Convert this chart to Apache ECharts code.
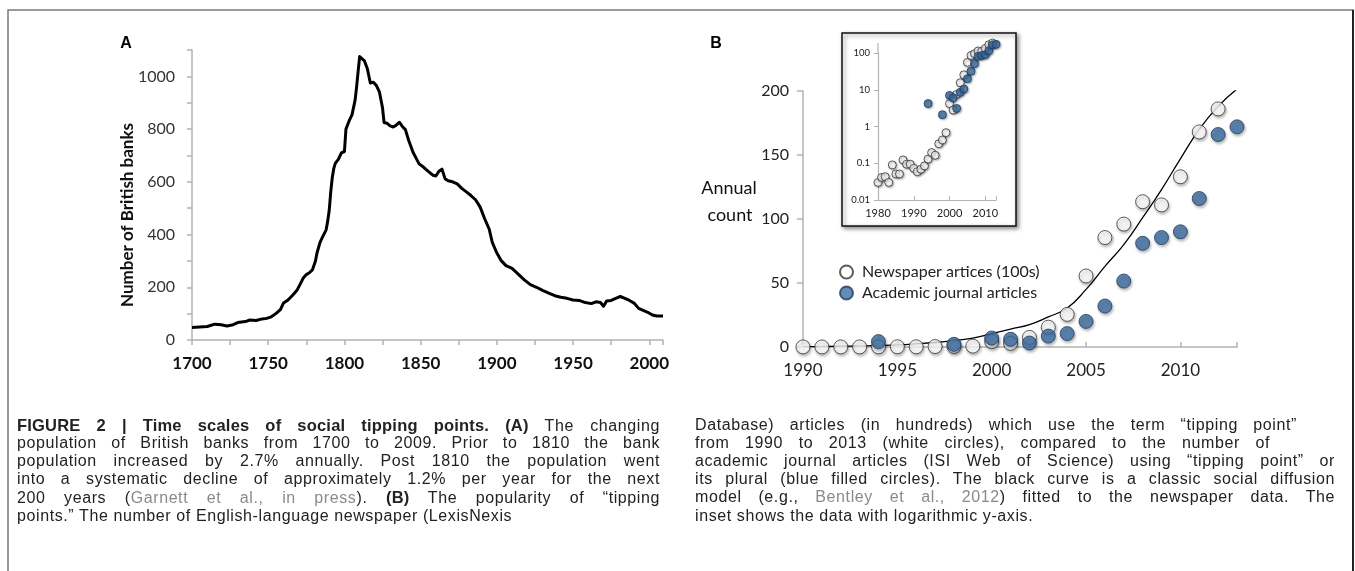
<!DOCTYPE html>
<html><head><meta charset="utf-8">
<script src="https://cdn.jsdelivr.net/npm/echarts@6/dist/echarts.min.js"></script>
<style>
html,body{margin:0;padding:0;background:#fff;}
#wrap{position:relative;width:1355px;height:571px;overflow:hidden;background:#fff;}
#chart{position:absolute;left:0;top:0;width:1355px;height:571px;}
.cap{position:absolute;font-family:'Liberation Sans',Arial,sans-serif;font-size:16px;letter-spacing:0.6px;color:#222;line-height:18px;height:18px;white-space:nowrap;}
.cap b{font-family:'Liberation Sans Narrow','Liberation Sans',Arial,sans-serif;font-weight:bold;font-size:16.5px;letter-spacing:0.2px;}
.g{color:#8a8a8a;}
</style>
</head><body>
<div id="wrap">
<div id="chart"></div>
<div class="cap" data-w="643" style="left:17px;top:416px;"><span><b>FIGURE 2 | Time scales of social tipping points. (A)</b> The changing</span></div>
<div class="cap" data-w="643" style="left:17px;top:434px;"><span>population of British banks from 1700 to 2009. Prior to 1810 the bank</span></div>
<div class="cap" data-w="643" style="left:17px;top:452px;"><span>population increased by 2.7% annually. Post 1810 the population went</span></div>
<div class="cap" data-w="643" style="left:17px;top:470px;"><span>into a systematic decline of approximately 1.2% per year for the next</span></div>
<div class="cap" data-w="643" style="left:17px;top:488px;"><span>200 years (<span class="g">Garnett et al., in press</span>). <b>(B)</b> The popularity of “tipping</span></div>
<div class="cap" style="left:17px;top:507px;"><span>points.” The number of English-language newspaper (LexisNexis</span></div>
<div class="cap" data-w="602" style="left:695px;top:416px;"><span>Database) articles (in hundreds) which use the term “tipping point”</span></div>
<div class="cap" data-w="575" style="left:695px;top:434px;"><span>from 1990 to 2013 (white circles), compared to the number of</span></div>
<div class="cap" data-w="640" style="left:695px;top:452px;"><span>academic journal articles (ISI Web of Science) using “tipping point” or</span></div>
<div class="cap" data-w="640" style="left:695px;top:470px;"><span>its plural (blue filled circles). The black curve is a classic social diffusion</span></div>
<div class="cap" data-w="640" style="left:695px;top:488px;"><span>model (e.g., <span class="g">Bentley et al., 2012</span>) fitted to the newspaper data. The</span></div>
<div class="cap" style="left:695px;top:507px;"><span>inset shows the data with logarithmic y-axis.</span></div>
</div>
<script>
// ---- Panel A: British banks ----
const bankYears = [1700,1705,1710,1715,1719,1723,1727,1730,1735,1738,1742,1746,1749,1752,1755,1758,1760,1763,1766,1769,1771,1773,1775,1777,1779,1781,1782,1784,1786,1788,1789,1790,1791,1792,1793,1794,1796,1798,1800,1801,1803,1805,1807,1808,1809,1810,1811,1813,1815,1817,1819,1821,1823,1825,1826,1828,1830,1832,1834,1836,1838,1840,1842,1845,1847,1849,1852,1855,1858,1860,1862,1864,1866,1868,1871,1874,1877,1880,1883,1886,1889,1892,1895,1897,1900,1903,1906,1910,1914,1918,1922,1926,1930,1934,1938,1942,1946,1950,1954,1958,1962,1965,1968,1970,1972,1975,1978,1981,1984,1987,1990,1993,1996,1999,2002,2005,2009];
const bankCounts = [47,49,51,60,58,53,58,66,70,76,74,80,82,88,100,115,140,152,170,190,212,235,248,255,266,300,330,370,395,418,450,490,560,615,650,670,685,710,715,800,830,855,910,960,1020,1075,1072,1060,1030,975,978,965,940,880,825,822,812,808,815,826,810,798,760,712,690,668,655,640,625,622,640,648,612,604,600,592,575,562,548,532,505,460,420,370,330,300,282,272,250,228,210,200,188,178,168,162,158,152,150,142,138,145,142,128,148,150,158,165,158,150,140,120,112,105,95,91,91];

// ---- Panel B: tipping points ----
const newsYears = [1980,1981,1982,1983,1984,1985,1986,1987,1988,1989,1990,1991,1992,1993,1994,1995,1996,1997,1998,1999,2000,2001,2002,2003,2004,2005,2006,2007,2008,2009,2010,2011,2012];
const newsCounts = [0.03,0.041,0.043,0.03,0.09,0.051,0.051,0.123,0.094,0.094,0.073,0.059,0.069,0.085,0.13,0.195,0.165,0.34,0.43,0.68,4.2,2.8,7.5,15.5,25.5,55.5,85.5,96,113.5,111,133,168,186];
const acadYears = [1994,1998,2000,2001,2002,2003,2004,2005,2006,2007,2008,2009,2010,2011,2012,2013];
const acadCounts = [4.2,2.1,7.0,6.0,3.1,8.5,10.5,20,32,51.5,81,85.5,90,116,166,172];
const fitYears = [1990,1991,1992,1993,1994,1995,1996,1997,1998,1999,2000,2001,2002,2003,2004,2005,2006,2007,2008,2009,2010,2011,2012,2013];
const fitValues = [0.3,0.4,0.6,0.8,1.2,1.7,2.5,3.5,5,7,10.5,14,17.5,23.5,30.5,45,63,80,101,123,147,170,188,201.5];

const newsLabel = 'Newspaper artices (100s)';
const acadLabel = 'Academic journal articles';

const zip = (xs, ys) => xs.map((x, i) => [x, ys[i]]);
const mainNews = zip(newsYears, newsCounts).filter(p => p[0] >= 1990);

const axisGray = '#b3b3b3';
const lab = (size, extra) => Object.assign({fontFamily: 'Lato', fontSize: size, color: '#222'}, extra || {});

const whiteStyle = {color: '#ffffff', borderColor: '#333', borderWidth: 1, shadowBlur: 3, shadowOffsetX: 1, shadowOffsetY: 2, shadowColor: 'rgba(0,0,0,0.35)'};
const blueStyle = {color: '#3e6fa4', borderColor: '#1e3c62', borderWidth: 1, shadowBlur: 3, shadowOffsetX: 1, shadowOffsetY: 2, shadowColor: 'rgba(0,0,0,0.35)'};

const chart = echarts.init(document.getElementById('chart'), null, {renderer: 'canvas'});
chart.setOption({
  backgroundColor: 'transparent',
  animation: false,
  grid: [
    {left: 192, top: 50, width: 471, height: 290, containLabel: false, outerBoundsMode: 'none'},
    {left: 803, top: 91, width: 434, height: 256, containLabel: false, outerBoundsMode: 'none'},
    {left: 878, top: 53, width: 118, height: 147, containLabel: false, outerBoundsMode: 'none'}
  ],
  xAxis: [
    {type: 'value', gridIndex: 0, min: 1700, max: 2009, interval: 25,
     axisLine: {show: true, lineStyle: {color: axisGray, width: 1.5}},
     axisTick: {show: true, length: 5, lineStyle: {color: axisGray, width: 1.5}},
     axisLabel: lab(17, {fontWeight: 'bold', color: '#111', margin: 15, formatter: v => (v % 50 === 0 ? String(v) : '')}),
     splitLine: {show: false}},
    {type: 'value', gridIndex: 1, min: 1990, max: 2013, interval: 5,
     axisLine: {show: true, lineStyle: {color: axisGray, width: 1.5}},
     axisTick: {show: true, inside: true, length: 5, lineStyle: {color: axisGray, width: 1.5}},
     axisLabel: lab(17, {margin: 15, formatter: v => (v % 5 === 0 ? String(v) : '')}),
     splitLine: {show: false}},
    {type: 'value', gridIndex: 2, min: 1980, max: 2013, interval: 10,
     axisLine: {show: true, lineStyle: {color: axisGray, width: 1.2}},
     axisTick: {show: true, inside: true, length: 4, lineStyle: {color: axisGray}},
     axisLabel: lab(11, {margin: 8, formatter: v => (v % 10 === 0 ? String(v) : '')}),
     splitLine: {show: false}}
  ],
  yAxis: [
    {type: 'value', gridIndex: 0, min: 0, max: 1100, interval: 100,
     axisLine: {show: true, lineStyle: {color: axisGray, width: 1.5}},
     axisTick: {show: true, length: 5, lineStyle: {color: axisGray, width: 1.5}},
     axisLabel: lab(16, {margin: 17, color: '#333', formatter: v => (v % 200 === 0 ? String(v) : '')}),
     splitLine: {show: false}},
    {type: 'value', gridIndex: 1, min: 0, max: 200, interval: 50,
     axisLine: {show: true, lineStyle: {color: axisGray, width: 1.5}},
     axisTick: {show: true, length: 6, lineStyle: {color: axisGray, width: 1.5}},
     axisLabel: lab(16, {margin: 14}),
     splitLine: {show: false}},
    {type: 'log', logBase: 10, gridIndex: 2, min: 0.01, max: 100,
     axisLine: {show: true, lineStyle: {color: axisGray, width: 1.2}},
     axisTick: {show: true, length: 4, lineStyle: {color: axisGray}},
     axisLabel: lab(9.5, {margin: 8, formatter: v => String(+v.toPrecision(3))}),
     minorTick: {show: false},
     splitLine: {show: false}}
  ],
  legend: {
    orient: 'vertical', left: 839, top: 264, itemGap: 5, itemWidth: 13, itemHeight: 13,
    icon: 'circle', padding: 0, selectedMode: false,
    data: [newsLabel, acadLabel],
    textStyle: {fontFamily: 'Lato', fontSize: 16, color: '#222', padding: [0, 0, 0, 4]}
  },
  series: [
    {type: 'line', xAxisIndex: 0, yAxisIndex: 0, data: zip(bankYears, bankCounts), symbol: 'none', showSymbol: false,
     lineStyle: {color: '#000', width: 3, join: 'round'}, z: 2},
    {type: 'line', xAxisIndex: 1, yAxisIndex: 1, data: zip(fitYears, fitValues), symbol: 'none', showSymbol: false, smooth: true,
     lineStyle: {color: '#000', width: 1.3}, z: 2},
    {type: 'scatter', name: newsLabel, xAxisIndex: 1, yAxisIndex: 1, data: mainNews, symbolSize: 14, clip: false,
     itemStyle: whiteStyle, z: 3},
    {type: 'scatter', name: acadLabel, xAxisIndex: 1, yAxisIndex: 1, data: zip(acadYears, acadCounts), symbolSize: 14, clip: false,
     itemStyle: blueStyle, z: 4},
    {type: 'scatter', name: newsLabel, xAxisIndex: 2, yAxisIndex: 2, data: zip(newsYears, newsCounts), symbolSize: 8, clip: false,
     itemStyle: Object.assign({}, whiteStyle, {shadowBlur: 2, shadowOffsetY: 1}), z: 3},
    {type: 'scatter', name: acadLabel, xAxisIndex: 2, yAxisIndex: 2, data: zip(acadYears, acadCounts), symbolSize: 8, clip: false,
     itemStyle: Object.assign({}, blueStyle, {shadowBlur: 2, shadowOffsetY: 1}), z: 4}
  ],
  graphic: [
    {type: 'rect', z: -10, shape: {x: 8, y: 10, width: 1345, height: 620}, style: {fill: 'none', stroke: '#7a7a7a', lineWidth: 1.5}},
    {type: 'line', z: -9, shape: {x1: 1353, y1: 10, x2: 1353, y2: 571}, style: {stroke: '#222', lineWidth: 2}},
    {type: 'rect', z: -8, shape: {x: 842, y: 33, width: 174, height: 193},
     style: {fill: '#fff', stroke: '#111', lineWidth: 1.5, shadowBlur: 4, shadowOffsetX: 2, shadowOffsetY: 2, shadowColor: 'rgba(0,0,0,0.45)'}},
    {type: 'line', z: -7, shape: {x1: 878, y1: 43, x2: 878, y2: 53}, style: {stroke: axisGray, lineWidth: 1.2}},
    {type: 'text', x: 126, y: 44, style: {text: 'A', font: 'bold 16px "Liberation Sans", Arial', fill: '#000', align: 'center', verticalAlign: 'middle'}},
    {type: 'text', x: 716, y: 44, style: {text: 'B', font: 'bold 16px "Liberation Sans", Arial', fill: '#000', align: 'center', verticalAlign: 'middle'}},
    {type: 'text', x: 128, y: 215, rotation: Math.PI / 2, style: {text: 'Number of British banks', font: 'bold 17px Lato', fill: '#111', align: 'center', verticalAlign: 'middle'}},
    {type: 'text', x: 729, y: 188, style: {text: 'Annual', font: '18px Lato', fill: '#111', align: 'center', verticalAlign: 'middle'}},
    {type: 'text', x: 730, y: 215, style: {text: 'count', font: '18px Lato', fill: '#111', align: 'center', verticalAlign: 'middle'}}
  ]
});

// justify caption lines to their column widths by adjusting word spacing
document.querySelectorAll('.cap[data-w]').forEach(el => {
  const target = +el.dataset.w;
  const span = el.firstElementChild;
  el.style.wordSpacing = '0px';
  const natural = span.getBoundingClientRect().width;
  const spaces = (el.textContent.match(/ /g) || []).length;
  if (spaces > 0) el.style.wordSpacing = ((target - natural) / spaces) + 'px';
});
</script>
</body></html>
